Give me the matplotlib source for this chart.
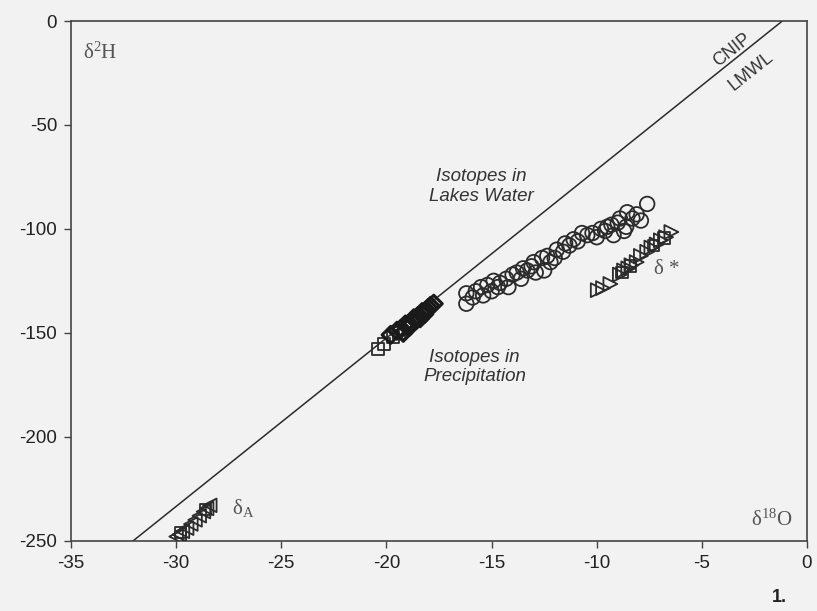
import matplotlib
matplotlib.use("Agg")
import matplotlib.pyplot as plt
import numpy as np

# ---- data ----
x_ticks = [-35, -30, -25, -20, -15, -10, -5, 0]
y_ticks = [0, -50, -100, -150, -200, -250]

lmwl_slope = 8.1
lmwl_intercept = 9.5

circ_x = [-16.2, -16.2, -15.9, -15.75, -15.5, -15.4, -15.2, -15.0, -14.9, -14.7,
          -14.6, -14.3, -14.2, -14.0, -13.8, -13.6, -13.5, -13.3, -13.1, -13.0,
          -12.9, -12.6, -12.5, -12.35, -12.2, -12.0, -11.9, -11.6, -11.5, -11.3,
          -11.1, -10.9, -10.7, -10.45, -10.2, -10.0, -9.8, -9.6, -9.5, -9.3,
          -9.2, -9.0, -8.9, -8.7, -8.6, -8.55, -8.3, -8.1, -7.9, -7.6]
circ_y = [-131, -136, -133, -130, -128, -132, -127, -130, -125, -128,
          -126, -124, -128, -122, -121, -124, -119, -120, -118, -116,
          -121, -114, -120, -113, -116, -114, -110, -111, -107, -108,
          -105, -106, -102, -103, -102, -104, -100, -101, -99, -98,
          -103, -97, -95, -101, -99, -92, -95, -93, -96, -88]

tri_x = [-9.95, -9.7, -9.35, -8.9, -8.7, -8.5, -8.35, -8.1, -7.9, -7.6,
         -7.4, -7.15, -6.95, -6.7, -6.45]
tri_y = [-129.5, -128.5, -126.5, -122, -120, -119, -117.5, -116, -113, -111,
         -109, -107.5, -105.5, -104, -101.5]
sq2_x = [-8.8, -8.4, -7.3, -6.8]
sq2_y = [-121, -118, -108, -104.5]

sq_x = [-20.4, -20.1, -19.7, -19.4]
sq_y = [-158, -155.5, -152, -150]
dia_x = [-19.8, -19.5, -19.3, -19.1, -19.0, -18.8, -18.7, -18.5, -18.4, -18.3,
         -18.2, -18.1, -18.0, -17.9, -17.75, -18.6, -18.9, -19.2]
dia_y = [-151, -149, -148, -146, -147, -145, -143, -142, -143, -140,
         -141, -139, -138, -137, -136, -144, -147, -150]

A_x = [-30.0, -29.85, -29.7, -29.5, -29.3, -29.1, -28.9, -28.7, -28.55, -28.4]
A_y = [-248, -247, -245.5, -244, -242, -240, -238, -236, -234.5, -233]
A_sq_x = [-29.8, -28.6]
A_sq_y = [-246, -235]

# ---- figure ----
plt.rcParams['mathtext.fontset'] = 'custom'
plt.rcParams['mathtext.rm'] = 'Liberation Serif'
plt.rcParams['mathtext.it'] = 'Liberation Serif:italic'

bg = '#f2f2f2'
ink = '#2b2b2b'
fig = plt.figure(figsize=(8.17, 6.11), dpi=100, facecolor=bg)
ax = fig.add_axes([71 / 817, 1 - 540.7 / 611, 736 / 817, 519.7 / 611], facecolor=bg)

ax.set_xlim(-35, 0)
ax.set_ylim(-250, 0)

xl = np.array([-40.0, 5.0])
ax.plot(xl, lmwl_slope * xl + lmwl_intercept, color=ink, lw=1.1, zorder=2)

mk = dict(facecolors='none', edgecolors=ink, linewidths=1.3, zorder=3)
ax.scatter(circ_x, circ_y, marker='o', s=110, **mk)
ax.scatter(tri_x, tri_y, marker='>', s=100, **mk)
ax.scatter(sq2_x, sq2_y, marker='s', s=70, **mk)
ax.scatter(sq_x, sq_y, marker='s', s=75, **mk)
ax.scatter(dia_x, dia_y, marker='D', s=75, facecolors='none', edgecolors='#1a1a1a', linewidths=2.2, zorder=3)
ax.scatter(A_x, A_y, marker='<', s=95, **mk)
ax.scatter(A_sq_x, A_sq_y, marker='s', s=65, **mk)

for sp in ax.spines.values():
    sp.set_color('#444444')
    sp.set_linewidth(1.2)

ax.set_xticks(x_ticks)
ax.set_yticks(y_ticks)
ax.set_xticklabels([str(v) for v in x_ticks])
ax.set_yticklabels([str(v) for v in y_ticks])
ax.tick_params(direction='out', length=5, width=1.0, color='#444444',
               labelsize=13.5, labelcolor='#222222', pad=5)
for lab in ax.get_xticklabels() + ax.get_yticklabels():
    lab.set_family(['Liberation Sans', 'DejaVu Sans'])

sans = ['Liberation Sans', 'DejaVu Sans']
gray = '#555555'

ax.text(-34.45, -15, r'$\mathrm{δ^{2}H}$', fontsize=15, color=gray, va='center', ha='left')
ax.text(-2.65, -239.5, r'$\mathrm{δ^{18}O}$', fontsize=15, color=gray, va='center', ha='left')
ax.text(-27.35, -234.5, r'$\mathrm{δ_{A}}$', fontsize=15, color=gray, va='center', ha='left')
ax.text(-7.3, -119, r'$\mathrm{δ\,*}$', fontsize=15, color=gray, va='center', ha='left')

ax.text(-15.5, -79.5, 'Isotopes in\nLakes Water', family=sans, style='italic',
        fontsize=13.5, color='#333333', ha='center', va='center', linespacing=1.2)
ax.text(-15.8, -166.5, 'Isotopes in\nPrecipitation', family=sans, style='italic',
        fontsize=13.5, color='#333333', ha='center', va='center', linespacing=1.2)

ax.text(-3.55, -14.0, 'CNIP', family=sans, fontsize=13, color='#333333',
        rotation=38.5, ha='center', va='center', rotation_mode='anchor')
ax.text(-2.65, -24.0, 'LMWL', family=sans, fontsize=13, color='#333333',
        rotation=38.5, ha='center', va='center', rotation_mode='anchor')

fig.text(772 / 817, 1 - 598 / 611, '1.', family=sans, fontsize=13, fontweight='bold',
         color='#222222', ha='left', va='center')

fig.savefig('out.png', dpi=100, facecolor=bg)
